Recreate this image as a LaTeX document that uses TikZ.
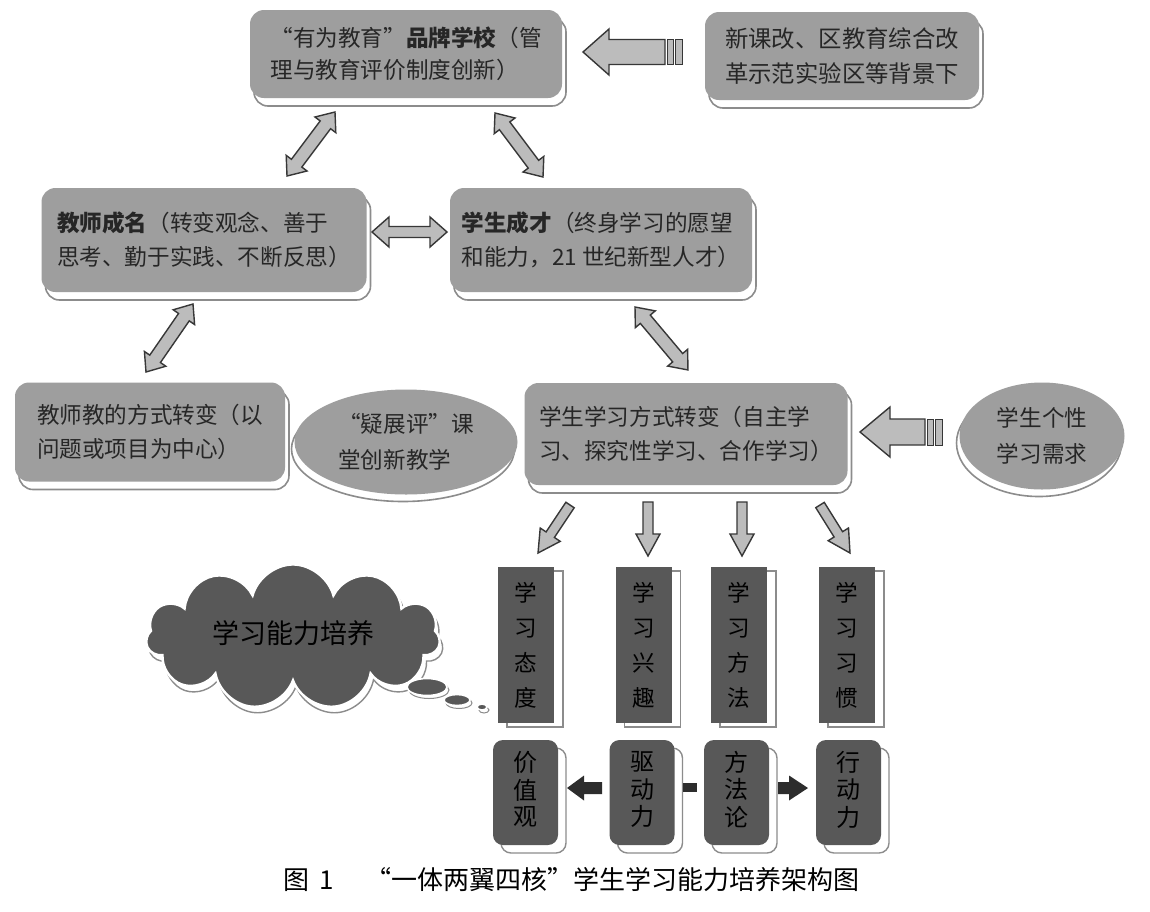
\documentclass[tikz,border=0pt]{standalone}
\usepackage{fontspec}
\setmainfont{Noto Sans CJK SC}
\usetikzlibrary{shapes.geometric,shapes.symbols,shadows}
\definecolor{boxgray}{RGB}{158,158,158}
\definecolor{darkbox}{RGB}{88,88,88}
\definecolor{arrfill}{RGB}{188,188,188}
\definecolor{arrline}{RGB}{55,55,55}
\definecolor{platel}{RGB}{140,140,140}
\definecolor{darkarr}{RGB}{45,45,45}
\newcommand\fsz[2]{\fontsize{#1}{#2}\selectfont}
\newcommand\blkgeom[2]{%
  \pgfpointdiff{\pgfpointanchor{#1}{center}}{\pgfpointanchor{#2}{center}}%
  \pgfgetlastxy{\bdx}{\bdy}%
  \pgfmathsetmacro\bang{atan2(\bdy,\bdx)}%
  \pgfmathsetmacro\blen{veclen(\bdx,\bdy)}}
% single block arrow: style, from, to, shaft half, head half, head length
\newcommand\blkS[6]{\blkgeom{#2}{#3}%
  \begin{scope}[shift={(#2)},rotate=\bang,x=1pt,y=1pt]
  \draw[#1] (0,#4) -- ({\blen-#6},#4) -- ({\blen-#6},#5) -- (\blen,0) -- ({\blen-#6},-#5) -- ({\blen-#6},-#4) -- (0,-#4) -- cycle;
  \end{scope}}
% double block arrow
\newcommand\blkD[6]{\blkgeom{#2}{#3}%
  \begin{scope}[shift={(#2)},rotate=\bang,x=1pt,y=1pt]
  \draw[#1] (0,0) -- (#6,#5) -- (#6,#4) -- ({\blen-#6},#4) -- ({\blen-#6},#5) -- (\blen,0) -- ({\blen-#6},-#5) -- ({\blen-#6},-#4) -- (#6,-#4) -- (#6,-#5) -- cycle;
  \end{scope}}
% block arrow with striped tail
\newcommand\blkT[6]{\blkgeom{#2}{#3}%
  \begin{scope}[shift={(#2)},rotate=\bang,x=1pt,y=1pt]
  \draw[#1] (9,#4) -- ({\blen-#6},#4) -- ({\blen-#6},#5) -- (\blen,0) -- ({\blen-#6},-#5) -- ({\blen-#6},-#4) -- (9,-#4) -- cycle;
  \draw[#1,line width=0.45pt] (5,#4) rectangle (7.6,-#4);
  \draw[#1,line width=0.45pt] (0.4,#4) rectangle (3.6,-#4);
  \end{scope}}
\tikzset{
  boxplate/.style={general shadow={shadow xshift=2pt,shadow yshift=-4pt,fill=white,draw=platel,line width=0.8pt}},
  ellplate/.style={general shadow={shadow xshift=-1.5pt,shadow yshift=-3.5pt,fill=white,draw=platel,line width=0.8pt}},
  colplate/.style={general shadow={shadow xshift=4.5pt,shadow yshift=-2pt,fill=white,draw=platel,line width=0.6pt}},
  coreplate/.style={general shadow={shadow xshift=4pt,shadow yshift=-4pt,fill=white,draw=platel,line width=0.7pt}},
  lbox/.style={rectangle,rounded corners=7pt,fill=boxgray,text=black!85,align=left,inner sep=0pt,font=\fsz{11.3}{17},boxplate},
  lell/.style={ellipse,fill=boxgray,text=black!85,align=left,inner sep=0pt,font=\fsz{11.3}{18},ellplate},
  colbox/.style={rectangle,fill=darkbox,text=black,minimum width=28pt,minimum height=78pt,inner sep=0pt,align=center,font=\fsz{11.3}{17.5},colplate},
  corebox/.style={rectangle,rounded corners=5pt,fill=darkbox,text=black,minimum width=32.5pt,minimum height=52.5pt,inner sep=0pt,font=\fsz{12}{12.5},coreplate},
  bubble/.style={ellipse,fill=darkbox,draw=white,line width=0.8pt,inner sep=0pt,general shadow={shadow xshift=1pt,shadow yshift=-1.5pt,fill=white,draw=platel,line width=0.5pt}},
  blockarr/.style={fill=arrfill,draw=arrline,line width=0.7pt,line join=miter},
  darkblk/.style={fill=darkarr,draw=none},
}
\newcommand\corestack[1]{\raisebox{5pt}{\begin{tabular}{@{}c@{}}#1\end{tabular}}}
\begin{document}
\begin{tikzpicture}[x=0.5pt,y=-0.5pt]
\useasboundingbox (0,0) rectangle (1150,911);
\fill[white] (0,0) rectangle (1150,911);

% top row
\node[lbox,minimum width=156pt,minimum height=44pt,font=\fsz{11.3}{16}] (brand) at (406,54)
  {“有为教育”\textbf{品牌学校}（管\\理与教育评价制度创新）};
\node[lbox,minimum width=137pt,minimum height=44pt,font=\fsz{11.7}{17.5}] (bg) at (842,56)
  {新课改、区教育综合改\\革示范实验区等背景下};

% middle row
\node[lbox,minimum width=162.5pt,minimum height=52pt] (teacher) at (204,240)
  {\textbf{教师成名}（转变观念、善于\\思考、勤于实践、不断反思）};
\node[lbox,minimum width=151pt,minimum height=52pt] (student) at (601,240)
  {\textbf{学生成才}（终身学习的愿望\\和能力，21 世纪新型人才）};

% third row
\node[lbox,minimum width=135pt,minimum height=49.5pt] (teach) at (150,432)
  {教师教的方式转变（以\\问题或项目为中心）};
\node[lell,minimum width=111.5pt,minimum height=52.5pt] (class) at (406,442)
  {“疑展评”课\\堂创新教学};
\node[lbox,minimum width=161.5pt,minimum height=51pt] (learn) at (686,434)
  {学生学习方式转变（自主学\\习、探究性学习、合作学习）};
\node[lell,minimum width=82.5pt,minimum height=53.5pt] (need) at (1042,436)
  {学生个性\\学习需求};

% cloud
\node[cloud,cloud puffs=11,aspect=2.3,fill=darkbox,draw=white,line width=1.2pt,
      minimum width=147pt,minimum height=64pt,inner sep=0pt,text=black,font=\fsz{13.5}{16},
      general shadow={shadow xshift=1.5pt,shadow yshift=-3pt,fill=white,draw=platel,line width=0.7pt}]
  (cloud) at (293,637) {\raisebox{4.5pt}{学习能力培养}};
\node[bubble,minimum width=20pt,minimum height=8.5pt] (bub1) at (427,687) {};
\node[bubble,minimum width=13pt,minimum height=5.5pt] (bub2) at (457,700) {};
\node[bubble,minimum width=5pt,minimum height=3pt] (bub3) at (482,707) {};

% four cores
\node[colbox] (c1) at (526,645) {学\\习\\态\\度};
\node[colbox] (c2) at (643.5,645) {学\\习\\兴\\趣};
\node[colbox] (c3) at (739,645) {学\\习\\方\\法};
\node[colbox] (c4) at (847,645) {学\\习\\习\\惯};

\node[corebox] (v1) at (525.5,792.5) {\corestack{价\\值\\观}};
\node[corebox] (v2) at (642,792.5) {\corestack{驱\\动\\力}};
\node[corebox] (v3) at (736.5,792.5) {\corestack{方\\法\\论}};
\node[corebox] (v4) at (848.5,792.5) {\corestack{行\\动\\力}};

% caption
\node[anchor=east,text=black,font=\fsz{13}{15},inner sep=0pt] (cap) at (860,880)
  {图\hspace{5pt}1\hspace{16pt}“一体两翼四核”学生学习能力培养架构图};

% arrow end points
\coordinate (t1) at (683,52);  \coordinate (h1) at (583,52);
\coordinate (t2) at (943,432); \coordinate (h2) at (860,432);
\coordinate (d1a) at (335,112); \coordinate (d1b) at (287,176);
\coordinate (d2a) at (495,113); \coordinate (d2b) at (543,177);
\coordinate (d3a) at (372,232); \coordinate (d3b) at (447,232);
\coordinate (d4a) at (193,304); \coordinate (d4b) at (146,372);
\coordinate (d5a) at (635,307); \coordinate (d5b) at (688,370);
\coordinate (a1s) at (570,505); \coordinate (a1e) at (538,553);
\coordinate (a2s) at (648,502); \coordinate (a2e) at (648,556);
\coordinate (a3s) at (742,502); \coordinate (a3e) at (742,556);
\coordinate (a4s) at (820,505); \coordinate (a4e) at (850,553);
\coordinate (l1s) at (602,788); \coordinate (l1e) at (567,788);
\coordinate (r1s) at (778,788); \coordinate (r1e) at (808,788);

% arrows
\blkT{blockarr}{t1}{h1}{6.25}{11.5}{13}
\blkT{blockarr}{t2}{h2}{6.5}{12.5}{15}
\blkD{blockarr}{d1a}{d1b}{3.25}{6.5}{8}
\blkD{blockarr}{d2a}{d2b}{3.25}{6.5}{8}
\blkD{blockarr}{d3a}{d3b}{2.75}{7.5}{8.5}
\blkD{blockarr}{d4a}{d4b}{3.25}{6.5}{8}
\blkD{blockarr}{d5a}{d5b}{3.25}{6.5}{8}
\blkS{blockarr}{a1s}{a1e}{2.5}{6}{11}
\blkS{blockarr}{a2s}{a2e}{2.5}{6}{11}
\blkS{blockarr}{a3s}{a3e}{2.5}{6}{11}
\blkS{blockarr}{a4s}{a4e}{2.5}{6}{11}
\blkS{darkblk}{l1s}{l1e}{3}{6.25}{8.5}
\blkS{darkblk}{r1s}{r1e}{3}{6.25}{9.5}
\fill[darkarr] (683,783) rectangle (697,792);
\end{tikzpicture}
\end{document}
